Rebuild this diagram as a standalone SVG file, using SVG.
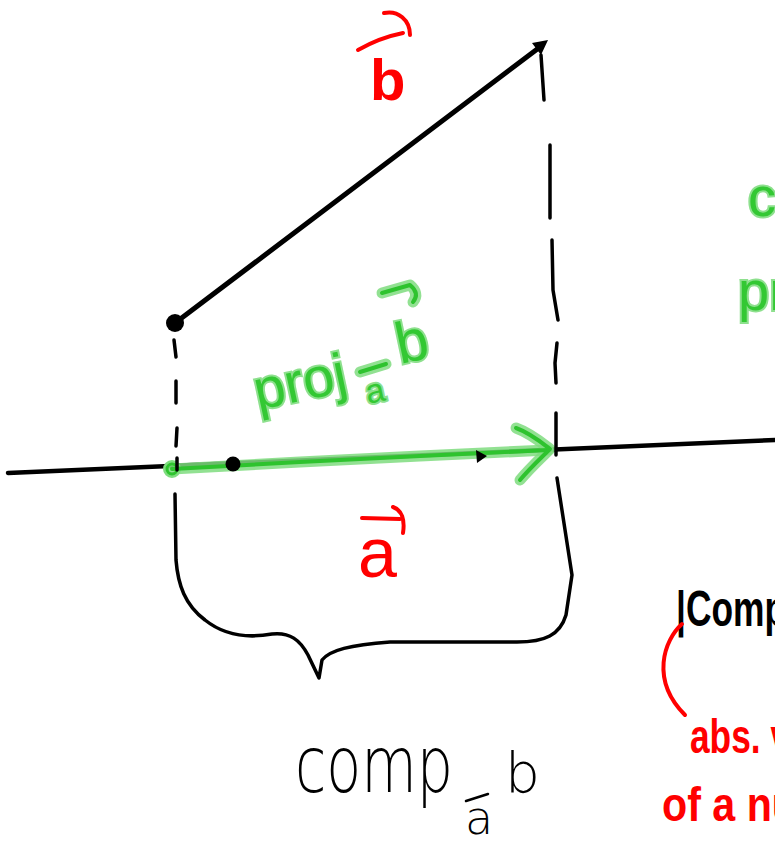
<svg xmlns="http://www.w3.org/2000/svg" width="775" height="849" viewBox="0 0 775 849">
<style>
.ink{fill:none;stroke:#000;stroke-linecap:round;stroke-linejoin:round}
.red{fill:none;stroke:#f00;stroke-linecap:round;stroke-linejoin:round;stroke-width:4}
.gh{fill:none;stroke:#7fdc7f;stroke-opacity:.85;stroke-linecap:round;stroke-linejoin:round;stroke-width:11}
.gc{fill:none;stroke:#2ec32e;stroke-linecap:round;stroke-linejoin:round;stroke-width:4}
.tr{font-family:"Liberation Sans",Arial,sans-serif;fill:#f00}
.tg{font-family:"Liberation Sans",Arial,sans-serif;fill:#33c833;stroke:#8ee08e;stroke-width:4;paint-order:stroke}
.tk{font-family:"DejaVu Sans","Liberation Sans",sans-serif;fill:#000}
</style>
<rect width="775" height="849" fill="#fff"/>

<g id="axis">
<path class="ink" stroke-width="4.5" d="M8,473 L775,440"/>
</g>

<g id="vector-b">
<path class="ink" stroke-width="5" d="M175,323 L540,47"/>
<polygon points="548,40 541,55 532,43" fill="#000"/>
<circle cx="175" cy="323" r="9" fill="#000"/>
</g>

<g id="projection">
<path class="gh" d="M172,469 L300,462 L420,456 L548,450"/>
<path class="gh" d="M516,428 C530,433 541,442 550,449 C541,458 530,468 520,480"/>
<circle cx="172" cy="469" r="6" fill="none" stroke="#7fdc7f" stroke-width="6"/>
<path class="gc" d="M172,469 L300,462 L420,456 L548,450"/>
<path class="gc" d="M516,428 C530,433 541,442 550,449 C541,458 530,468 520,480"/>
<circle cx="172" cy="469" r="5" fill="none" stroke="#2ec32e" stroke-width="3"/>
<polygon points="476,450 487,456 477,463" fill="#000"/>
</g>

<g id="point-a">
<circle cx="233" cy="464" r="7.5" fill="#000"/>
</g>

<g id="connectors">
<g class="ink" stroke-width="3.5">
<path d="M174,340 L176,357"/>
<path d="M176,381 L176,403"/>
<path d="M177,428 L176,446"/>
<path d="M177,458 L177,470"/>
<path d="M541,55 L544,100"/>
<path d="M550,145 L550,218"/>
<path d="M552,240 L553,290 L558,320"/>
<path d="M557,343 L555,363 L556,383"/>
<path d="M556,413 L556,455"/>
</g>
<path class="ink" stroke-width="3.5" d="M175,494 L176,560 C178,585 185,605 205,620 C225,636 250,638 272,634 C290,632 300,640 308,655 L319,678 L322,660 C330,650 350,645 390,642 L517,642 C545,642 560,635 566,615 L572,575 L557,478"/>
</g>

<g id="label-b">
<path class="red" d="M358,50 C372,42 388,36 403,33"/>
<path class="red" d="M384,13 C398,10 410,20 410,35"/>
<text class="tr" x="370" y="100" font-size="58" font-weight="bold">b</text>
</g>

<g id="label-a">
<path class="red" d="M362,518 L400,519"/>
<path class="red" d="M393,507 C402,510 405,520 403,533"/>
<text class="tr" x="358" y="577" font-size="70">a</text>
</g>

<g id="label-proj">
<text class="tg" x="258" y="410" font-size="56" transform="rotate(-12 258 410)">proj</text>
<text class="tg" x="368" y="404" font-size="34" transform="rotate(-12 368 404)">a</text>
<path class="gh" d="M360,372 L386,364" stroke-width="8"/>
<path class="gc" d="M360,372 L386,364" stroke-width="3.5"/>
<text class="tg" x="400" y="364" font-size="58" transform="rotate(-12 400 364)">b</text>
<path class="gh" d="M382,293 L410,285 C416,290 418,296 413,302" stroke-width="8"/>
<path class="gc" d="M382,293 L410,285 C416,290 418,296 413,302" stroke-width="3.5"/>
</g>

<g id="label-comp">
<text class="tk" x="295" y="792" font-size="78" font-weight="200" textLength="158" lengthAdjust="spacingAndGlyphs">comp</text>
<text class="tk" x="465" y="834" font-size="46" font-weight="200">a</text>
<path class="ink" stroke-width="2.5" d="M466,801 L488,794"/>
<text class="tk" x="505" y="792" font-size="55" font-weight="200">b</text>
</g>

<g id="right-notes">
<text class="tg" x="748" y="216" font-size="56">co</text>
<text class="tg" x="738" y="310" font-size="56">pr</text>
<text x="676" y="626" font-size="50" font-weight="bold" font-family="Liberation Sans,sans-serif" fill="#000" textLength="110" lengthAdjust="spacingAndGlyphs">|Comp</text>
<path class="red" stroke-width="4.5" d="M682,624 C664,640 650,680 685,715"/>
<text class="tr" x="690" y="753" font-size="48" font-weight="bold" textLength="100" lengthAdjust="spacingAndGlyphs">abs. v</text>
<text class="tr" x="662" y="821" font-size="48" font-weight="bold" textLength="135" lengthAdjust="spacingAndGlyphs">of a nu</text>
</g>
</svg>
